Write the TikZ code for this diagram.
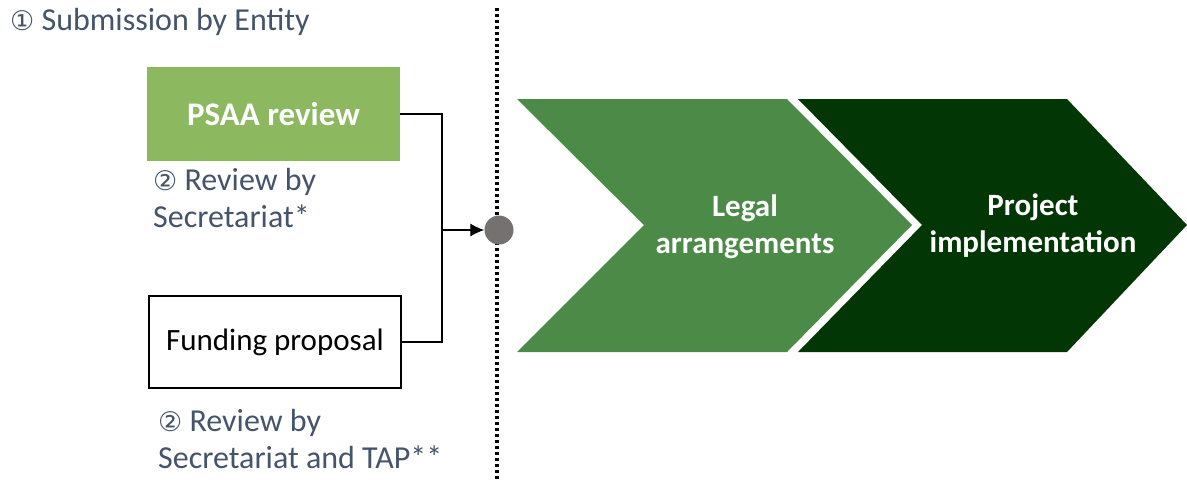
\documentclass[tikz,border=0pt]{standalone}
\usepackage{fontspec}
\setmainfont{Carlito}
\newfontfamily\symfont{DejaVu Sans}
\usetikzlibrary{arrows.meta}
\definecolor{labelgray}{RGB}{68,84,106}
\definecolor{psaagreen}{RGB}{140,184,96}
\definecolor{midgreen}{RGB}{76,138,71}
\definecolor{darkgreen}{RGB}{3,54,5}
\definecolor{dotgray}{RGB}{118,113,113}
\newcommand{\circnum}[1]{{\symfont\fontsize{27}{30}\selectfont #1}}
\tikzset{
  lbl/.style={text=labelgray, font=\fontsize{32}{37}\selectfont, align=left, inner sep=0pt},
  boxtext/.style={font=\fontsize{31}{34}\selectfont},
  chevtext/.style={text=white, font=\bfseries\fontsize{31}{37}\selectfont, align=center},
  conn/.style={line width=1.1pt, draw=black},
}
\begin{document}
\begin{tikzpicture}[x=1pt,y=-1pt]
\useasboundingbox (0,0) rectangle (1187,480);
% dotted divider
\draw[line width=3.2pt, dash pattern=on 3pt off 3pt] (497,8) -- (497,480);
% title
\node[lbl, anchor=west] (title) at (10,22) {\circnum{①} Submission by Entity};
% PSAA box
\node[fill=psaagreen, minimum width=253pt, minimum height=94pt, inner sep=0pt,
      text=white, font=\bfseries\fontsize{33}{36}\selectfont] (psaa) at (273.5,114) {PSAA review};
\node[lbl, anchor=north west] (rev1) at (153,168) {\circnum{②} Review by\\Secretariat*};
% Funding box
\node[draw=black, line width=2pt, minimum width=252pt, minimum height=92pt, inner sep=0pt,
      boxtext] (fund) at (275,342) {Funding proposal};
\node[lbl, anchor=north west] (rev2) at (158,409) {\circnum{②} Review by\\Secretariat and TAP**};
% merge circle
\node[circle, fill=dotgray, minimum size=29pt, inner sep=0pt] (dot) at (499,230) {};
\coordinate (mx) at (442,230);
\draw[conn, -{Latex[length=14pt,width=13pt]}] (psaa.east) -- (442,114) -- (mx) -- (dot.west);
\draw[conn] (fund.east) -- (442,342) -- (mx);
% chevrons
\fill[midgreen] (517,99) -- (787,99) -- (912,225) -- (787,352) -- (517,352) -- (644,225) -- cycle;
\fill[darkgreen] (798,99) -- (1067,99) -- (1187,225) -- (1067,352) -- (798,352) -- (922,225) -- cycle;
\node[chevtext] (legal) at (745,227) {Legal\\arrangements};
\node[chevtext] (proj) at (1033,226) {Project\\implementation};
\end{tikzpicture}
\end{document}
